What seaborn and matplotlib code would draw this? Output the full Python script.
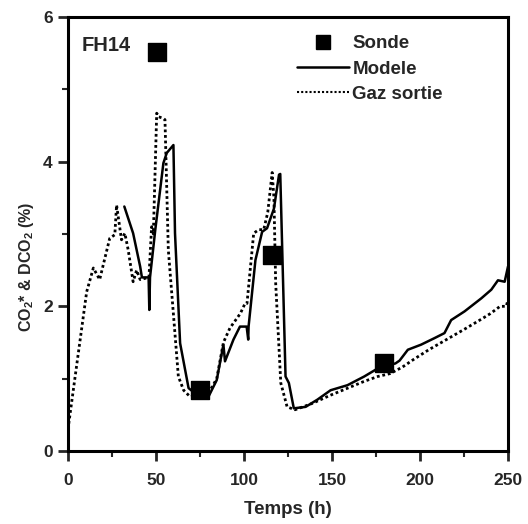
import matplotlib
matplotlib.use("Agg")
import matplotlib.pyplot as plt
import seaborn as sns
import pandas as pd
from matplotlib.lines import Line2D
from matplotlib.ticker import MultipleLocator

# ---- data ----
sonde_t = [50.4, 75.0, 116.0, 179.8]
sonde_v = [5.52, 0.85, 2.71, 1.21]

modele_t = [32.0, 37.0, 41.0, 42.0, 45.8, 46.2, 46.6, 49.6, 54.2, 56.1, 59.9,
            60.8, 63.7, 68.5, 72.0, 80.0, 84.5, 88.3, 89.2, 94.0, 97.7, 101.5,
            102.4, 102.6, 106.5, 110.3, 113.1, 117.0, 119.9, 120.6, 123.6,
            125.5, 128.3, 135.0, 141.7, 149.2, 158.8, 168.3, 175.9, 180.0,
            186.0, 188.4, 193.1, 200.6, 208.2, 213.9, 217.7, 225.3, 234.8,
            240.5, 244.3, 248.1, 250.0]
modele_v = [3.38, 3.01, 2.55, 2.40, 2.40, 1.95, 2.40, 3.06, 3.98, 4.12, 4.23,
            3.01, 1.49, 0.87, 0.80, 0.76, 0.98, 1.47, 1.24, 1.54, 1.72, 1.72,
            1.54, 1.72, 2.64, 3.03, 3.08, 3.35, 3.82, 3.83, 1.03,
            0.94, 0.59, 0.61, 0.71, 0.84, 0.91, 1.03, 1.14, 1.18,
            1.21, 1.25, 1.40, 1.47, 1.56, 1.63, 1.81, 1.93, 2.11,
            2.23, 2.36, 2.34, 2.55]

gaz_t = [0.0, 3.0, 8.7, 10.6, 14.4, 18.0, 23.7, 26.6, 27.6, 30.4, 32.3, 34.2,
         37.0, 39.0, 41.0, 46.0, 47.5, 48.5, 50.4, 51.5, 54.1, 55.1, 57.0,
         62.7, 65.7, 69.4, 75.0, 80.8, 84.5, 88.3, 92.0, 97.9, 100.6, 101.7,
         105.5, 108.4, 111.2, 113.5, 116.0, 117.0, 118.0, 120.9, 124.5,
         129.0, 139.0, 149.0, 158.0, 168.0, 176.0, 183.0, 190.0, 196.0,
         205.0, 215.0, 225.0, 234.0, 240.0, 245.5, 249.0, 250.0]
gaz_v = [0.30, 0.84, 1.86, 2.20, 2.53, 2.37, 2.94, 2.99, 3.40, 2.92, 3.01, 2.78,
         2.34, 2.50, 2.37, 2.40, 3.10, 3.00, 4.67, 4.62, 4.60, 4.58, 2.78,
         1.03, 0.84, 0.75, 0.78, 0.84, 1.00, 1.50, 1.70, 1.90, 2.04, 2.04,
         3.01, 3.06, 3.06, 3.30, 3.85, 3.50, 2.32, 0.94, 0.61,
         0.57, 0.66, 0.77, 0.86, 0.96, 1.03, 1.07, 1.16, 1.26,
         1.40, 1.54, 1.68, 1.81, 1.90, 2.00, 2.00, 2.09]

x_ticks = [0, 50, 100, 150, 200, 250]
y_ticks = [0, 2, 4, 6]

# ---- style ----
sns.set_theme(style="ticks")
plt.rcParams["font.family"] = ["Liberation Sans", "DejaVu Sans"]
plt.rcParams["font.weight"] = "bold"
plt.rcParams["mathtext.fontset"] = "custom"
plt.rcParams["mathtext.rm"] = "Liberation Sans:bold"
plt.rcParams["mathtext.bf"] = "Liberation Sans:bold"
plt.rcParams["mathtext.it"] = "Liberation Sans:bold"

fig = plt.figure(figsize=(5.28, 5.24), dpi=100)
ax = fig.add_axes([68 / 528, 1 - 451 / 524, 440 / 528, 434 / 524])

df_m = pd.DataFrame({"t": modele_t, "v": modele_v})
df_g = pd.DataFrame({"t": gaz_t, "v": gaz_v})
df_s = pd.DataFrame({"t": sonde_t, "v": sonde_v})

sns.lineplot(data=df_g, x="t", y="v", ax=ax, sort=False, estimator=None,
             color="black", linestyle=(0, (1, 1)), linewidth=2.0)
sns.lineplot(data=df_m, x="t", y="v", ax=ax, sort=False, estimator=None,
             color="black", linestyle="-", linewidth=1.8)
sns.scatterplot(data=df_s, x="t", y="v", ax=ax, marker="s", s=150,
                color="black", edgecolor="black", zorder=5)

ax.set_xlim(0, 250)
ax.set_ylim(0, 6)
ax.set_xticks(x_ticks)
ax.set_yticks(y_ticks)
ax.xaxis.set_minor_locator(MultipleLocator(25))
ax.yaxis.set_minor_locator(MultipleLocator(1))
ax.tick_params(which="major", direction="out", length=7, width=2,
               labelsize=12.5)
ax.tick_params(axis="x", which="major", pad=8.5)
ax.tick_params(axis="y", which="major", pad=4)
ax.tick_params(which="minor", direction="out", length=4, width=1.5)
for lab in ax.get_xticklabels() + ax.get_yticklabels():
    lab.set_fontweight("bold")
for sp in ax.spines.values():
    sp.set_visible(True)
    sp.set_linewidth(2.2)
    sp.set_color("black")

ax.set_xlabel("Temps (h)", fontsize=13.5, fontweight="bold", labelpad=10)
ax.set_ylabel(r"CO$_{\mathbf{2}}$* & DCO$_{\mathbf{2}}$ (%)", fontsize=11.5,
              fontweight="bold")
ax.yaxis.set_label_coords(-0.073, 0.425)

ax.text(0.03, 0.935, "FH14", transform=ax.transAxes, fontsize=14.5,
        fontweight="bold", ha="left", va="center")

handles = [
    Line2D([], [], color="black", marker="s", linestyle="none", markersize=9.5),
    Line2D([], [], color="black", linestyle="-", linewidth=1.8),
    Line2D([], [], color="black", linestyle=(0, (1, 1)), linewidth=1.5),
]
labels = ["Sonde", "Modele", "Gaz sortie"]
leg = ax.legend(handles, labels, loc="upper left", bbox_to_anchor=(0.52, 0.958),
                frameon=False, fontsize=13.5, handlelength=2.8, handletextpad=0.16,
                labelspacing=0.43, borderaxespad=0, borderpad=0)
for t in leg.get_texts():
    t.set_fontweight("bold")

fig.savefig("out.png", dpi=100)
